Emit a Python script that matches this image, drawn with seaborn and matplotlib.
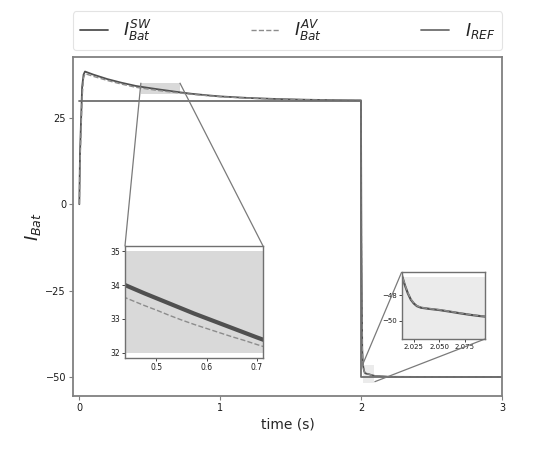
import numpy as np
import pandas as pd
import matplotlib
matplotlib.use("Agg")
import matplotlib.pyplot as plt
import seaborn as sns
from matplotlib.patches import Rectangle
from mpl_toolkits.axes_grid1.inset_locator import mark_inset

# ---------------- data ----------------
t = [0.0, 0.005, 0.02, 0.03, 0.04, 0.1, 0.2, 0.3, 0.4, 0.437, 0.475, 0.5, 0.525, 0.55,
     0.575, 0.6, 0.625, 0.65, 0.675, 0.7, 0.713, 0.8, 0.9, 1.0, 1.2, 1.4, 1.6, 1.8, 1.999,
     2.002, 2.008, 2.013, 2.016, 2.019, 2.022, 2.025, 2.028, 2.032, 2.04, 2.05, 2.06,
     2.07, 2.08, 2.09, 2.1, 2.2, 2.5, 3.0]
i_sw = [0.0, 15.0, 34.0, 37.5, 38.4, 37.5, 36.2, 35.15, 34.24, 34.0, 33.76, 33.61, 33.46, 33.31,
        33.16, 33.02, 32.88, 32.74, 32.6, 32.46, 32.39, 31.95, 31.55, 31.2, 30.75, 30.45,
        30.25, 30.12, 30.05,
        -10.0, -42.0, -46.4, -47.2, -47.85, -48.35, -48.65, -48.85, -48.97, -49.06, -49.15,
        -49.27, -49.4, -49.52, -49.62, -49.7, -49.95, -50.0, -50.0]
i_av = [0.0, 12.0, 31.0, 36.5, 37.8, 37.0, 35.8, 34.75, 33.85, 33.63, 33.4, 33.26, 33.11, 32.97,
        32.84, 32.72, 32.6, 32.48, 32.37, 32.25, 32.19, 31.8, 31.45, 31.12, 30.7, 30.42,
        30.23, 30.1, 30.04,
        -8.0, -41.0, -46.35, -47.15, -47.8, -48.3, -48.62, -48.82, -48.95, -49.04, -49.13,
        -49.25, -49.38, -49.5, -49.6, -49.68, -49.94, -50.0, -50.0]
t_ref = [0.0, 2.0, 2.0, 3.0]
i_ref = [30.0, 30.0, -50.0, -50.0]

labels = [r"$I_{Bat}^{SW}$", r"$I_{Bat}^{AV}$", r"$I_{REF}$"]

# zoom regions
zoom1_x = [0.437, 0.713]
zoom1_y = [31.85, 35.15]
zoom1_band = [32.0, 35.0]
zoom2_x = [2.013, 2.095]
zoom2_y = [-51.4, -46.2]
zoom2_band = [-51.6, -46.55]

df_sw = pd.DataFrame({"t": t, "i": i_sw})
df_av = pd.DataFrame({"t": t, "i": i_av})
df_ref = pd.DataFrame({"t": t_ref, "i": i_ref})

# ---------------- style ----------------
sns.set_theme(style="ticks")
plt.rcParams['font.family'] = ['DejaVu Sans']

c_sw = "#505050"
c_av = "#8c8c8c"
c_ref = "#6e6e6e"
spine_c = "#808080"

fig = plt.figure(figsize=(5.55, 4.54), dpi=100)
ax = fig.add_axes([0.1315, 0.1278, 0.773, 0.7466])


def draw(a, lw_sw, lw_av, lw_ref=None, legend=False):
    sns.lineplot(data=df_sw, x="t", y="i", ax=a, color=c_sw, lw=lw_sw,
                 label=labels[0] if legend else None, sort=False, estimator=None)
    sns.lineplot(data=df_av, x="t", y="i", ax=a, color=c_av, lw=lw_av, ls="--",
                 label=labels[1] if legend else None, sort=False, estimator=None)
    if lw_ref is not None:
        sns.lineplot(data=df_ref, x="t", y="i", ax=a, color=c_ref, lw=lw_ref,
                     label=labels[2] if legend else None, sort=False, estimator=None)


draw(ax, 1.3, 1.0, 1.3, legend=True)
ax.set_xlim(-0.045, 3.0)
ax.set_ylim(-55.5, 42.6)
ax.set_xticks([0, 1, 2, 3])
ax.set_yticks([-50, -25, 0, 25])
ax.tick_params(labelsize=7, length=3, width=0.8, color=spine_c, pad=2, labelcolor="#1a1a1a")
ax.set_xlabel("time (s)", fontsize=10, labelpad=3)
ax.set_ylabel(r"$I_{Bat}$", fontsize=13, labelpad=2)
for s in ax.spines.values():
    s.set_color(spine_c)
    s.set_linewidth(1.3)

# shaded zoom regions on main plot
ax.add_patch(Rectangle((zoom1_x[0], zoom1_band[0]), zoom1_x[1] - zoom1_x[0],
                       zoom1_band[1] - zoom1_band[0], fc="#d9d9d9", ec="none", zorder=0.7))
ax.add_patch(Rectangle((zoom2_x[0], zoom2_band[0]), zoom2_x[1] - zoom2_x[0],
                       zoom2_band[1] - zoom2_band[0], fc="#ebebeb", ec="none", zorder=0.7))

leg = ax.legend(loc="lower left", bbox_to_anchor=(0, 1.02, 1, 0.085), mode="expand",
                ncol=3, fontsize=12.5, frameon=True, borderaxespad=0, handlelength=1.6,
                handletextpad=0.9)
leg.get_frame().set_edgecolor("#dddddd")
leg.get_frame().set_linewidth(0.8)

# inset 1
ax1 = fig.add_axes([0.2252, 0.2115, 0.2487, 0.2467])
ax1.add_patch(Rectangle((zoom1_x[0] - 1, zoom1_band[0]), 3,
                        zoom1_band[1] - zoom1_band[0], fc="#d9d9d9", ec="none", zorder=0))
draw(ax1, 3.0, 1.0)
ax1.set_xlim(*zoom1_x)
ax1.set_ylim(*zoom1_y)
ax1.set_xticks([0.5, 0.6, 0.7])
ax1.set_yticks([32, 33, 34, 35])
ax1.set_xlabel("")
ax1.set_ylabel("")
ax1.tick_params(labelsize=5.5, length=2, width=0.6, pad=1.5, labelcolor="#1a1a1a")
for s in ax1.spines.values():
    s.set_color("#707070")
    s.set_linewidth(1.0)
r1, c11, c12 = mark_inset(ax, ax1, loc1=2, loc2=1, fc="none", ec="#7a7a7a", lw=0.9, zorder=0.6)
r1.set_visible(False)

# inset 2
ax2 = fig.add_axes([0.7238, 0.2533, 0.150, 0.1476])
ax2.add_patch(Rectangle((zoom2_x[0] - 1, zoom2_band[0]), 3,
                        zoom2_band[1] - zoom2_band[0], fc="#ebebeb", ec="none", zorder=0))
draw(ax2, 1.6, 1.0)
ax2.set_xlim(*zoom2_x)
ax2.set_ylim(*zoom2_y)
ax2.set_xticks([2.025, 2.050, 2.075])
ax2.set_yticks([-50, -48])
ax2.set_xlabel("")
ax2.set_ylabel("")
ax2.tick_params(labelsize=5, length=2, width=0.6, pad=1.5, labelcolor="#1a1a1a")
for s in ax2.spines.values():
    s.set_color("#707070")
    s.set_linewidth(1.0)
r2, c21, c22 = mark_inset(ax, ax2, loc1=2, loc2=4, fc="none", ec="#7a7a7a", lw=0.9, zorder=0.6)
r2.set_visible(False)

fig.savefig("out.png", dpi=100)
